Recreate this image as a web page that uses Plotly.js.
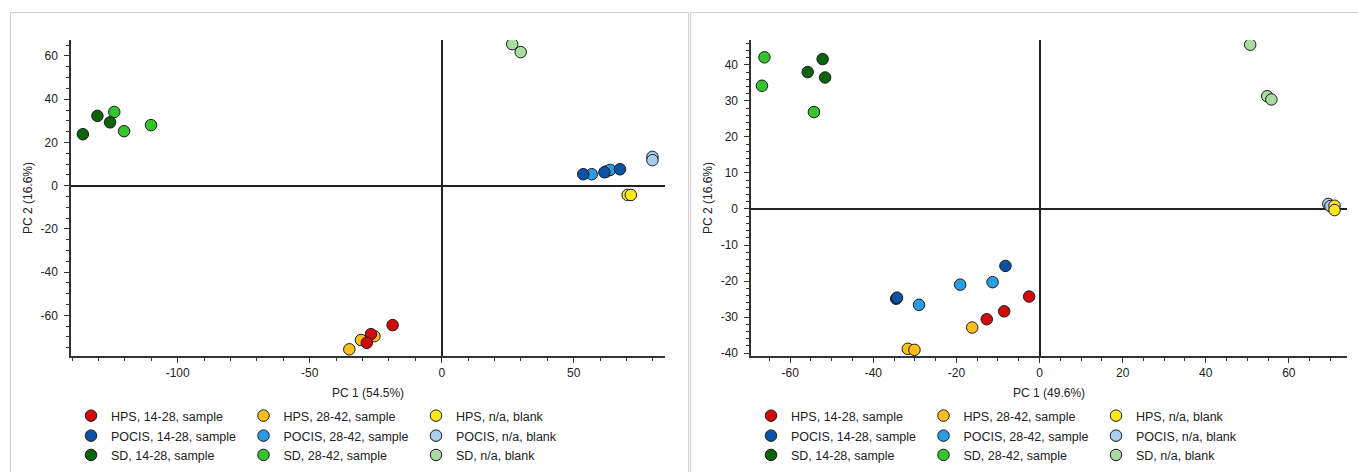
<!DOCTYPE html>
<html>
<head>
<meta charset="utf-8">
<script src="https://cdn.plot.ly/plotly-3.0.1.min.js"></script>
<style>html,body{margin:0;padding:0;background:#fff;}#chart{width:1358px;height:472px;}</style>
</head>
<body>
<div id="chart"></div>
<script>
// Series (legend order)
const seriesNames = [
  'HPS, 14-28, sample', 'HPS, 28-42, sample', 'HPS, n/a, blank',
  'POCIS, 14-28, sample', 'POCIS, 28-42, sample', 'POCIS, n/a, blank',
  'SD, 14-28, sample', 'SD, 28-42, sample', 'SD, n/a, blank'
];

// Left panel scores (PC 1 54.5%, PC 2 16.6%)
const leftPC1 = [
  [-18.6, -26.8, -28.4],
  [-35.0, -30.6, -25.5],
  [70.4, 71.6],
  [53.6, 61.6, 67.5],
  [56.8, 62.4, 63.8],
  [79.8, 79.8],
  [-135.9, -130.4, -125.6],
  [-124.0, -120.3, -110.1],
  [26.7, 29.9]
];
const leftPC2 = [
  [-64.5, -68.7, -72.7],
  [-75.7, -71.4, -69.6],
  [-4.3, -4.3],
  [5.3, 6.2, 7.6],
  [5.3, 6.6, 7.3],
  [13.3, 11.8],
  [23.8, 32.3, 29.3],
  [34.1, 25.2, 28.0],
  [65.5, 61.8]
];

// Right panel scores (PC 1 49.6%, PC 2 16.6%)
const rightPC1 = [
  [-12.7, -8.5, -2.5],
  [-16.2, -31.7, -30.1],
  [71.0, 71.0],
  [-34.5, -34.3, -8.2],
  [-29.0, -19.1, -11.3],
  [69.5, 70.0],
  [-55.8, -52.2, -51.6],
  [-66.2, -66.8, -54.3],
  [50.7, 54.8, 55.8]
];
const rightPC2 = [
  [-30.6, -28.4, -24.3],
  [-32.9, -38.8, -39.1],
  [0.9, -0.3],
  [-24.9, -24.6, -15.8],
  [-26.6, -21.0, -20.3],
  [1.4, 0.8],
  [38.0, 41.6, 36.5],
  [42.1, 34.2, 26.9],
  [45.6, 31.3, 30.4]
];

// Tick values and labels (labels use a plain hyphen, as in the original)
const leftXTickVals = [-100, -50, 0, 50];
const leftXTickText = ['-100', '-50', '0', '50'];
const leftYTickVals = [-60, -40, -20, 0, 20, 40, 60];
const leftYTickText = ['-60', '-40', '-20', '0', '20', '40', '60'];
const rightXTickVals = [-60, -40, -20, 0, 20, 40, 60];
const rightXTickText = ['-60', '-40', '-20', '0', '20', '40', '60'];
const rightYTickVals = [-40, -30, -20, -10, 0, 10, 20, 30, 40];
const rightYTickText = ['-40', '-30', '-20', '-10', '0', '10', '20', '30', '40'];

const axisTitles = {left: ['PC 1 (54.5%)', 'PC 2 (16.6%)'], right: ['PC 1 (49.6%)', 'PC 2 (16.6%)']};

// Styling
const colors = ['#d10a0a', '#ffbf1a', '#ffe81a', '#0a52a8', '#2a9ce6', '#a9cdf0', '#0b640b', '#33c52b', '#a8dca0'];
const FONT = 'Liberation Sans, Arial, sans-serif';
const TXT = '#222';

const traces = [];
const legendIdsL = ['legend', 'legend2', 'legend3'];
const legendIdsR = ['legend4', 'legend5', 'legend6'];
// draw in reverse order so earlier series sit on top; legendrank keeps legend order
for (let i = seriesNames.length - 1; i >= 0; i--) {
  const mk = {size: 11.5, color: colors[i], line: {color: '#1a1a1a', width: 1}};
  traces.push({
    type: 'scatter', mode: 'markers', name: seriesNames[i],
    x: leftPC1[i], y: leftPC2[i], xaxis: 'x', yaxis: 'y',
    marker: mk, legend: legendIdsL[Math.floor(i / 3)], legendrank: i + 1,
    hoverinfo: 'x+y+name'
  });
  traces.push({
    type: 'scatter', mode: 'markers', name: seriesNames[i],
    x: rightPC1[i], y: rightPC2[i], xaxis: 'x2', yaxis: 'y2',
    marker: mk, legend: legendIdsR[Math.floor(i / 3)], legendrank: i + 1,
    hoverinfo: 'x+y+name'
  });
}

function axis(opts) {
  return Object.assign({
    showgrid: false,
    zeroline: true, zerolinecolor: '#222', zerolinewidth: 1.5,
    showline: true, linecolor: '#333', linewidth: 1.5,
    tickmode: 'array',
    ticks: 'outside', ticklen: 5, tickwidth: 1.3, tickcolor: '#333',
    tickfont: {family: FONT, size: 12, color: TXT},
    automargin: false,
    fixedrange: true
  }, opts);
}

function minor(step) {
  return {tickmode: 'linear', tick0: 0, dtick: step, ticklen: 3, ticks: 'outside', tickcolor: '#333', tickwidth: 1.2};
}

const W = 1358, H = 472;
const M = {l: 71, r: 11.3, t: 40, b: 116};
const pw = W - M.l - M.r, ph = H - M.t - M.b;
const px = v => (v - M.l) / pw;       // pixel -> paper x
const py = v => (H - M.b - v) / ph;   // pixel -> paper y

function legendAt(xPix, yPix) {
  return {
    orientation: 'h',
    xref: 'container', yref: 'container',
    x: xPix / W, xanchor: 'left', y: 1 - yPix / H, yanchor: 'middle',
    entrywidth: 127.5, entrywidthmode: 'pixels',
    font: {family: FONT, size: 12.5, color: TXT},
    bgcolor: 'rgba(0,0,0,0)', borderwidth: 0,
    itemclick: false, itemdoubleclick: false
  };
}

const titleFont = {family: FONT, size: 12, color: TXT};

const layout = {
  width: W, height: H,
  margin: M,
  paper_bgcolor: '#fff', plot_bgcolor: '#fff',
  font: {family: FONT, color: TXT},
  xaxis: axis({domain: [0, px(665)], anchor: 'y', range: [-140.4, 84.6],
    tickvals: leftXTickVals, ticktext: leftXTickText, minor: minor(10),
    title: {text: axisTitles.left[0], font: titleFont, standoff: 9}}),
  yaxis: axis({domain: [0, 1], anchor: 'x', range: [-78.8, 67.4],
    tickvals: leftYTickVals, ticktext: leftYTickText, minor: minor(5),
    ticklabelstandoff: 4,
    title: {text: axisTitles.left[1], font: titleFont, standoff: 5}}),
  xaxis2: axis({domain: [px(751), 1], anchor: 'y2', range: [-69.4, 74.0],
    tickvals: rightXTickVals, ticktext: rightXTickText, minor: minor(5),
    title: {text: axisTitles.right[0], font: titleFont, standoff: 9}}),
  yaxis2: axis({domain: [0, 1], anchor: 'x2', range: [-40.8, 46.9],
    tickvals: rightYTickVals, ticktext: rightYTickText, minor: minor(2),
    ticklabelstandoff: 4,
    title: {text: axisTitles.right[1], font: titleFont, standoff: 5}}),
  legend: legendAt(71, 416),
  legend2: legendAt(71, 436),
  legend3: legendAt(71, 455.3),
  legend4: legendAt(751, 416),
  legend5: legendAt(751, 436),
  legend6: legendAt(751, 455.3),
  shapes: [
    {type: 'rect', xref: 'paper', yref: 'paper', x0: px(10.5), x1: px(688.5), y0: py(480), y1: py(12.5),
      line: {color: '#cfcfcf', width: 1}, fillcolor: 'rgba(0,0,0,0)', layer: 'below'},
    {type: 'rect', xref: 'paper', yref: 'paper', x0: px(690.5), x1: px(1365), y0: py(480), y1: py(12.5),
      line: {color: '#cfcfcf', width: 1}, fillcolor: 'rgba(0,0,0,0)', layer: 'below'}
  ],
  showlegend: true,
  hovermode: 'closest'
};

Plotly.newPlot('chart', traces, layout, {displayModeBar: false, responsive: false});
</script>
</body>
</html>
